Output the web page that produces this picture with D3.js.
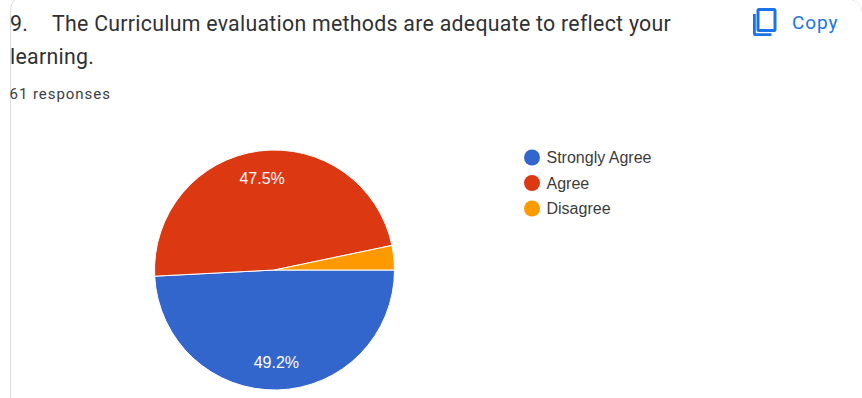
<!DOCTYPE html>
<html><head><meta charset="utf-8">
<script src="https://cdn.jsdelivr.net/npm/d3@7"></script>
<style>html,body{margin:0;padding:0;background:#fff;overflow:hidden}svg{display:block}text{font-family:Roboto,Arial,sans-serif}</style>
</head><body><svg id="c" width="862" height="398"></svg>
<script>
const titleNumber = "9.";
const titleLines = ["The Curriculum evaluation methods are adequate to reflect your", "learning."];
const subtitle = "61 responses";
const categories = ["Strongly Agree", "Agree", "Disagree"];
const counts = [30, 29, 2];
const sliceLabels = ["49.2%", "47.5%", ""];
const colors = ["#3366cc", "#dc3912", "#ff9900"];

const svg = d3.select("#c");
svg.append("path").attr("d","M10.5 398V12Q10.5 3 15 0").attr("fill","none").attr("stroke","#dadce0").attr("stroke-width",1);
svg.append("path").attr("d","M852 0Q862 3 862 12").attr("fill","none").attr("stroke","#e8eaed").attr("stroke-width",1);

const titleAttrs = s => s.attr("font-size",21.3).attr("fill","#303134").attr("letter-spacing",0.28);
svg.append("text").attr("x",10).attr("y",31).call(titleAttrs).text(titleNumber);
svg.selectAll("text.t").data(titleLines).join("text").attr("class","t")
  .attr("x",(d,i)=>i===0?52:10).attr("y",(d,i)=>31+i*32.5).call(titleAttrs).text(d=>d);
svg.append("text").attr("x",9.5).attr("y",99).attr("font-size",15).attr("letter-spacing",0.95).attr("fill","#3c4043").text(subtitle);

svg.append("path").attr("fill","#1a73e8").attr("fill-rule","evenodd")
  .attr("d","M759 8h15a2.500 2.500 0 0 1 2.500 2.500v19a2.500 2.500 0 0 1-2.500 2.500h-15a2.500 2.500 0 0 1-2.500-2.500v-19a2.500 2.500 0 0 1 2.500-2.500zm.5 3v18h14v-18zM753 14h2.800v19.200h15.700v2.800h-16a2.500 2.500 0 0 1-2.500-2.500z");
svg.append("text").attr("x",792).attr("y",29).attr("font-size",19).attr("letter-spacing",0.9).attr("fill","#1a73e8").text("Copy");

const cx=274.5, cy=270, R=120;
const pie = d3.pie().sort(null).startAngle(Math.PI/2).endAngle(Math.PI/2+2*Math.PI);
const arcs = pie(counts);
const arc = d3.arc().innerRadius(0).outerRadius(R);
const lab = d3.arc().innerRadius(R*0.77).outerRadius(R*0.77);
const g = svg.append("g").attr("transform",`translate(${cx},${cy})`);
g.selectAll("path").data(arcs).join("path").attr("d",arc).attr("fill",(d,i)=>colors[i]).attr("stroke","#fff").attr("stroke-width",1);
g.selectAll("text").data(arcs).join("text")
  .attr("transform",d=>{const c=lab.centroid(d);return `translate(${c[0]-0.5},${c[1]})`;}).attr("text-anchor","middle").attr("dy","0.35em")
  .style("font-family","'Liberation Sans'").attr("font-size",16).attr("fill","#fff").text((d,i)=>sliceLabels[i]);

const leg = svg.selectAll("g.l").data(categories).join("g").attr("class","l")
  .attr("transform",(d,i)=>`translate(532,${157.5+i*25.5})`);
leg.append("circle").attr("r",8).attr("fill",(d,i)=>colors[i]);
leg.append("text").attr("x",14.5).attr("dy","0.35em").style("font-family","'Liberation Sans'").attr("font-size",16).attr("fill","#3c3c3c").text(d=>d);
</script></body></html>
